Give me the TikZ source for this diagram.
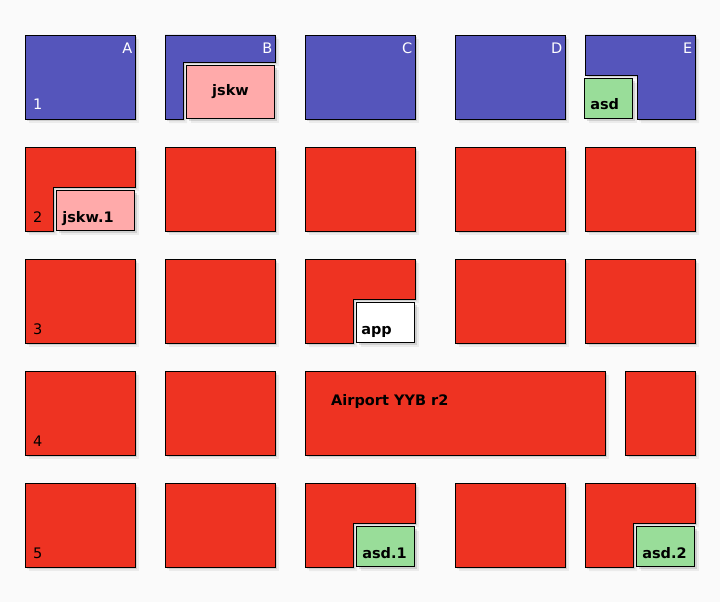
\documentclass[tikz,border=0pt]{standalone}
\usepackage{fontspec}
\setmainfont{DejaVu Sans}
\usetikzlibrary{shadows, positioning}
\definecolor{slotblue}{RGB}{85,85,187}
\definecolor{slotred}{RGB}{238,51,34}
\definecolor{cardpink}{RGB}{255,170,170}
\definecolor{cardgreen}{RGB}{153,221,153}
\tikzset{
x=1pt, y=-1pt, % one unit is one pixel of the layout, y runs downwards
slot/.style={draw=black, line width=0.9pt,
    drop shadow={shadow xshift=2pt, shadow yshift=-2pt, opacity=0.25},
    drop shadow={shadow xshift=4pt, shadow yshift=-4pt, opacity=0.12}},
card/.style={slot, inner sep=0pt, anchor=south east}, % cards sit in the lower right corner
colname/.style={white, font=\fontsize{14.5}{17}\selectfont, inner sep=0pt, anchor=base east},
rowname/.style={font=\fontsize{14.5}{17}\selectfont, inner sep=0pt, anchor=base west},
cardname/.style={font=\fontsize{14.5}{17}\selectfont\bfseries, inner sep=0pt, anchor=base west},
}
\def\slotbox#1#2{(#1,#2) rectangle ++(110,84)}
% slot with a corner cut out at the lower right, #3/#4 is the inner corner
\def\notchbox#1#2#3#4{(#1,#2) -| ({#1+110},#4) -- (#3,#4) |- (#1,{#2+84}) -- cycle}
\def\bounding{(0,0) rectangle (720,602)}

\begin{document}
\begin{tikzpicture}
    \useasboundingbox \bounding;
    \fill[white!98!black] \bounding;

    % row 1
    \foreach \x in {25,305,455} {\draw[slot, fill=slotblue] \slotbox{\x}{35};}
    \draw[slot, fill=slotblue] \notchbox{165}{35}{183}{62};
    \draw[slot, fill=slotblue] (585,35) -- (695,35) -- (695,119) -- (637,119)
        -- (637,75) -- (585,75) -- cycle;

    % rows 2 to 5
    \foreach \x in {165,305,455,585} {\draw[slot, fill=slotred] \slotbox{\x}{147};}
    \draw[slot, fill=slotred] \notchbox{25}{147}{53}{187};
    \foreach \x in {25,165,455,585} {\draw[slot, fill=slotred] \slotbox{\x}{259};}
    \draw[slot, fill=slotred] \notchbox{305}{259}{353}{299};
    \foreach \x in {25,165} {\draw[slot, fill=slotred] \slotbox{\x}{371};}
    \draw[slot, fill=slotred] (305,371) rectangle ++(300,84);
    \draw[slot, fill=slotred] (625,371) rectangle ++(70,84);
    \foreach \x in {25,165,455} {\draw[slot, fill=slotred] \slotbox{\x}{483};}
    \draw[slot, fill=slotred] \notchbox{305}{483}{353}{523};
    \draw[slot, fill=slotred] \notchbox{585}{483}{633}{523};

    % cards
    \node[card, fill=cardpink, minimum width=88pt, minimum height=53pt,
        font=\fontsize{14.5}{17}\selectfont\bfseries] (jskw) at (275,119) {jskw};
    \node[card, fill=cardgreen, minimum width=48pt, minimum height=40pt] (asd) at (633,119) {};
    \node[card, fill=cardpink, minimum width=78pt, minimum height=40pt] (jskw1) at (135,231) {};
    \node[card, fill=white, minimum width=58pt, minimum height=40pt] (app) at (415,343) {};
    \node[card, fill=cardgreen, minimum width=58pt, minimum height=40pt] (asd1) at (415,567) {};
    \node[card, fill=cardgreen, minimum width=58pt, minimum height=40pt] (asd2) at (695,567) {};

    \node[cardname, above right=9pt and 6pt of asd.south west, anchor=base west] (asdname) {asd};
    \node[cardname, above right=9pt and 6pt of jskw1.south west, anchor=base west] (jskw1name) {jskw.1};
    \node[cardname, above right=9pt and 5pt of app.south west, anchor=base west] (appname) {app};
    \node[cardname, above right=9pt and 6pt of asd1.south west, anchor=base west] (asd1name) {asd.1};
    \node[cardname, above right=9pt and 6pt of asd2.south west, anchor=base west] (asd2name) {asd.2};
    \node[cardname] (airport) at (331,405) {Airport YYB r2};

    % column and row names
    \foreach \x/\c in {25/A,165/B,305/C,455/D,585/E}
        \node[colname] (col\c) at (\x+107.5,54) {\c};
    \node[rowname, white] (row1) at (33,110) {1};
    \foreach \r/\y in {2/222,3/334,4/446,5/558}
        \node[rowname] (row\r) at (33,\y) {\r};

\end{tikzpicture}
\end{document}
